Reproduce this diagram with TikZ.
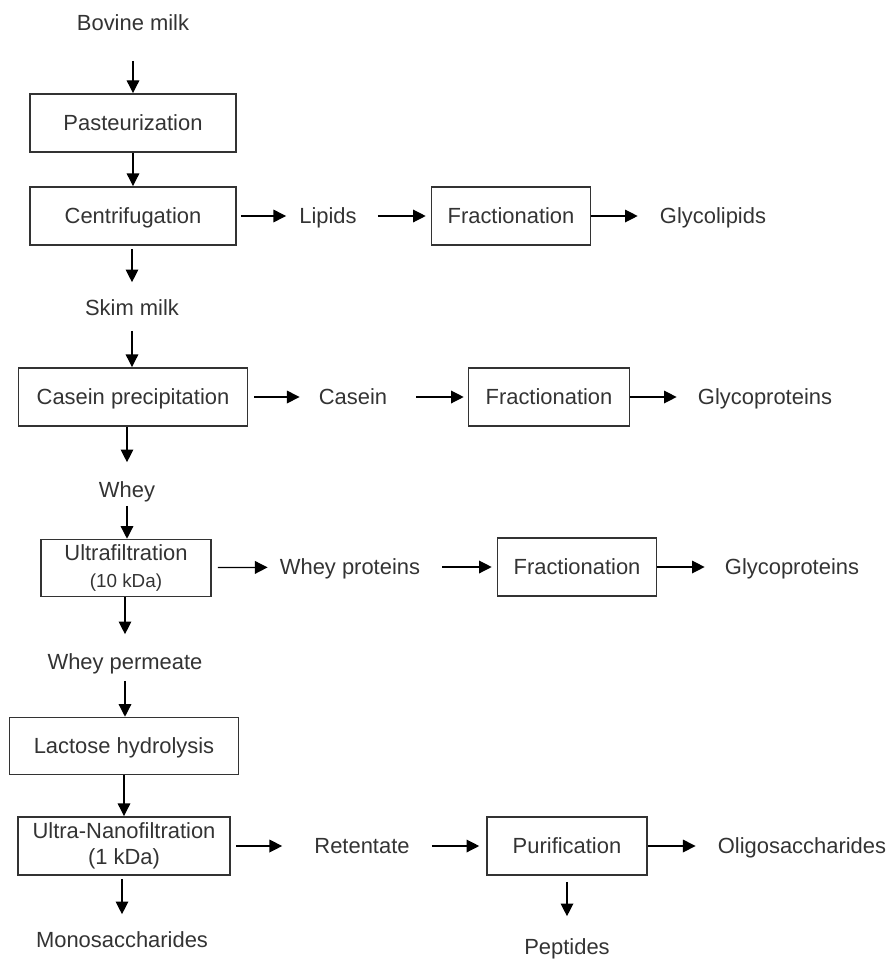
\documentclass[tikz,border=0pt]{standalone}
\usepackage{fontspec}
\setmainfont{Liberation Sans}
\usetikzlibrary{arrows.meta}

\begin{document}
\begin{tikzpicture}[x = 0.025cm, y = -0.025cm,
	font = \fontsize{15.6}{18.5}\selectfont,
	stage/.style = {draw = black!80, line width = 1.1pt, text = black!80, minimum height = 1.46cm, inner sep = 0pt, align = center, text height = 13pt, text depth = 2pt},
	twoline/.style = {text height = , text depth = },
	stream/.style = {text = black!80, inner sep = 0pt, text height = 13pt, text depth = 2pt},
	flow/.style = {line width = 0.9pt, -{Triangle[length = 9pt, width = 9pt]}}]

	\useasboundingbox (0, 0) rectangle (893, 961);

	% Main line of the process
	
	\node [stream] (bovine) at (133, 23) {Bovine milk};
	\node [stage, minimum width = 5.15cm] (pasteur) at (133, 123) {Pasteurization};
	\node [stage, minimum width = 5.15cm] (centri) at (133, 216) {Centrifugation};
	\node [stream] (skim) at (132, 308) {Skim milk};
	\node [stage, minimum width = 5.725cm] (casprec) at (133, 397) {Casein precipitation};
	\node [stream] (whey) at (127, 490) {Whey};
	\node [stage, twoline, minimum width = 4.25cm, minimum height = 1.425cm] (ultra) at (126, 568) {Ultrafiltration\\{\fontsize{13.4}{16}\selectfont (10 kDa)}};
	\node [stream] (permeate) at (125, 662) {Whey permeate};
	\node [stage, minimum width = 5.725cm, minimum height = 1.425cm] (lactose) at (124, 746) {Lactose hydrolysis};
	\node [stage, twoline, minimum width = 5.3cm] (nano) at (124, 846) {Ultra-Nanofiltration\\(1 kDa)};
	\node [stream] (mono) at (122, 940) {Monosaccharides};
	
	% Side streams
	
	\node [stream] (lipids) at (328, 216) {Lipids};
	\node [stage, minimum width = 3.975cm] (fracA) at (511, 216) {Fractionation};
	\node [stream] (glycolipids) at (713, 216) {Glycolipids};
	
	\node [stream] (casein) at (353, 397) {Casein};
	\node [stage, minimum width = 4.025cm] (fracB) at (549, 397) {Fractionation};
	\node [stream] (glycoprotA) at (765, 397) {Glycoproteins};
	
	\node [stream] (wheyprot) at (350, 567) {Whey proteins};
	\node [stage, minimum width = 3.975cm] (fracC) at (577, 567) {Fractionation};
	\node [stream] (glycoprotB) at (792, 567) {Glycoproteins};
	
	\node [stream] (retentate) at (362, 846) {Retentate};
	\node [stage, minimum width = 4cm] (purif) at (567, 846) {Purification};
	\node [stream] (oligo) at (802, 846) {Oligosaccharides};
	\node [stream] (peptides) at (567, 947) {Peptides};
	
	% Arrows down the main line
	
	\draw [flow, shorten < = 0.675cm] (bovine) -- (pasteur);
	\draw [flow] (pasteur) -- (centri);
	\draw [flow, shorten < = 0.075cm, shorten > = 0.375cm] (centri.south -| skim) -- (skim);
	\draw [flow, shorten < = 0.3cm] (skim) -- (skim |- casprec.north);
	\draw [flow, shorten > = 0.425cm] (casprec.south -| whey) -- (whey);
	\draw [flow, shorten < = 0.125cm] (whey) -- (whey |- ultra.north);
	\draw [flow, shorten > = 0.425cm] (ultra.south -| permeate) -- (permeate);
	\draw [flow, shorten < = 0.2cm] (permeate) -- (permeate |- lactose.north);
	\draw [flow] (lactose) -- (nano);
	\draw [flow, shorten < = 0.075cm, shorten > = 0.375cm] (nano.south -| mono) -- (mono);
	
	% Arrows to the right
	
	\draw [flow, shorten < = 0.1cm, shorten > = 0.325cm] (centri) -- (lipids);
	\draw [flow, shorten < = 0.525cm, shorten > = 0.125cm] (lipids) -- (fracA);
	\draw [flow, shorten > = 0.55cm] (fracA) -- (glycolipids);
	
	\draw [flow, shorten < = 0.15cm, shorten > = 0.475cm] (casprec) -- (casein);
	\draw [flow, shorten < = 0.725cm, shorten > = 0.1cm] (casein) -- (fracB);
	\draw [flow, shorten > = 0.525cm] (fracB) -- (glycoprotA);
	
	\draw [flow, shorten < = 0.15cm, shorten > = 0.3cm] (ultra) -- (wheyprot);
	\draw [flow, shorten < = 0.55cm, shorten > = 0.125cm] (wheyprot) -- (fracC);
	\draw [flow, shorten > = 0.5cm] (fracC) -- (glycoprotB);
	
	\draw [flow, shorten < = 0.125cm, shorten > = 0.8cm] (nano) -- (retentate);
	\draw [flow, shorten < = 0.55cm, shorten > = 0.175cm] (retentate) -- (purif);
	\draw [flow, shorten > = 0.55cm] (purif) -- (oligo);
	\draw [flow, shorten < = 0.15cm, shorten > = 0.5cm] (purif) -- (peptides);

\end{tikzpicture}
\end{document}
